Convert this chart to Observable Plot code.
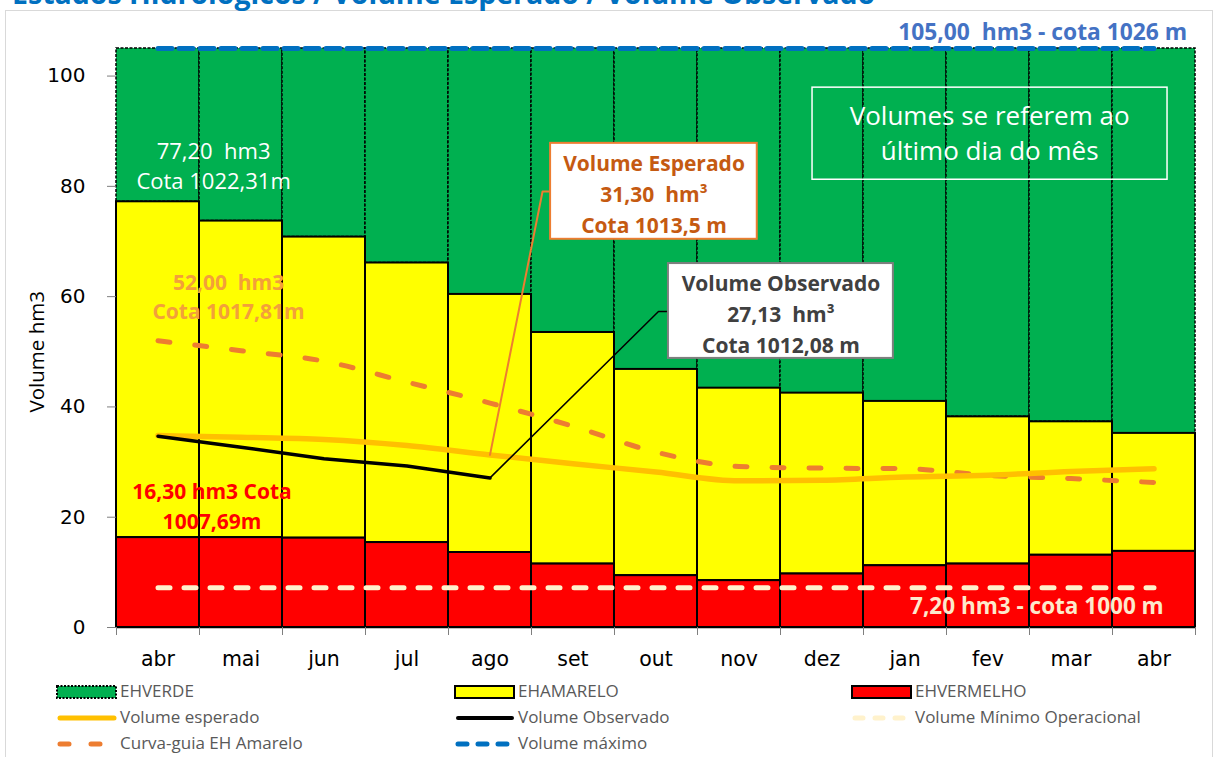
<!DOCTYPE html>
<html><head><meta charset="utf-8">
<script src="https://cdn.jsdelivr.net/npm/d3@7"></script>
<script src="https://cdn.jsdelivr.net/npm/@observablehq/plot@0.6"></script>
<style>
body{margin:0;background:#fff;}
#wrap{position:relative;width:1215px;height:757px;overflow:hidden;background:#fff;}
#frame{position:absolute;left:5px;top:10px;width:1206px;height:800px;border:1px solid #d9d9d9;}
#title{position:absolute;left:12px;top:-22px;font:bold 28.5px "Open Sans";color:#0070C0;white-space:nowrap;line-height:30px;}
#chart{position:absolute;left:0;top:0;}
.lg{position:absolute;font:17px "Open Sans";color:#595959;white-space:nowrap;line-height:20px;}
.sw{position:absolute;}
</style></head><body>
<div id="wrap"><div id="frame"></div><div id="title">Estados Hidrológicos / Volume Esperado / Volume Observado</div><div id="chart"></div><div id="legend"></div></div>
<script>
// ---- data ----
const months = ["abr","mai","jun","jul","ago","set","out","nov","dez","jan","fev","mar","abr"];
const ehVermelho = [16.3, 16.3, 16.2, 15.4, 13.6, 11.5, 9.4, 8.5, 9.7, 11.2, 11.5, 13.1, 13.8];
const ehAmarelo  = [77.2, 73.7, 70.8, 66.1, 60.4, 53.5, 46.8, 43.4, 42.5, 41.0, 38.2, 37.3, 35.2];
const ehVerde    = [105, 105, 105, 105, 105, 105, 105, 105, 105, 105, 105, 105, 105];
const volumeEsperado  = [34.8, 34.5, 34.1, 33.0, 31.3, 29.7, 28.2, 26.6, 26.7, 27.3, 27.6, 28.3, 28.8];
const volumeObservado = [34.7, 32.7, 30.6, 29.3, 27.13];
const curvaGuia       = [52.0, 50.2, 48.3, 44.5, 40.7, 36.5, 31.8, 29.2, 28.9, 28.8, 27.6, 27.0, 26.3];
const volumeMinimo    = [7.2, 7.2, 7.2, 7.2, 7.2, 7.2, 7.2, 7.2, 7.2, 7.2, 7.2, 7.2, 7.2];
const volumeMaximo    = [105, 105, 105, 105, 105, 105, 105, 105, 105, 105, 105, 105, 105];
const yTicks = [0, 20, 40, 60, 80, 100];

const rows = months.map((m, i) => ({
  i, m, red: ehVermelho[i], yel: ehAmarelo[i], grn: ehVerde[i],
  esp: volumeEsperado[i], cg: curvaGuia[i], min: volumeMinimo[i], max: volumeMaximo[i]
}));
const obsRows = volumeObservado.map((v, i) => ({i, v}));

// annotation anchors (data units)
const leaderEsp = [{x: 4.5, y: volumeEsperado[4]}, {x: 5.133, y: 79.07}, {x: 5.23, y: 79.07}];
const leaderObs = [{x: 4.5, y: volumeObservado[4]}, {x: 6.53, y: 57.3}, {x: 6.65, y: 57.3}];
const boxes = [
  {x1: 5.23, x2: 7.72, y1: 70.4, y2: 87.8, fill: "#fff", stroke: "#ED7D31", sw: 2},
  {x1: 6.65, x2: 9.36, y1: 48.8, y2: 66.0, fill: "#fff", stroke: "#7f7f7f", sw: 2},
  {x1: 8.386, x2: 12.663, y1: 81.2, y2: 97.9, fill: "none", stroke: "#fff", sw: 1.5}
];
const yLabel = {t: "Volume hm3", x: -0.952, y: 50};
const notes = [
  {t: "Volume Esperado\n31,30 \u00a0hm³\nCota 1013,5 m", x: 6.476, y: 78.9, fill: "#C55A11", w: "bold", s: 21, lh: 1.48, a: "middle"},
  {t: "Volume Observado\n27,13 \u00a0hm³\nCota 1012,08 m", x: 8.006, y: 57.2, fill: "#404040", w: "bold", s: 21, lh: 1.48, a: "middle"},
  {t: "Volumes se referem ao\núltimo dia do mês", x: 10.52, y: 90.0, fill: "#fff", w: "normal", s: 26, lh: 1.35, a: "middle"},
  {t: "77,20 \u00a0hm3\nCota 1022,31m", x: 1.17, y: 84.0, fill: "#fff", w: "normal", s: 22, lh: 1.36, a: "middle"},
  {t: "52,00 \u00a0hm3\nCota 1017,81m", x: 1.35, y: 60.3, fill: "#F3A03A", w: "bold", s: 21, lh: 1.4, a: "middle"},
  {t: "16,30 hm3 Cota\n1007,69m", x: 1.15, y: 22.4, fill: "#FF0000", w: "bold", s: 21, lh: 1.43, a: "middle"},
  {t: "7,20 hm3 - cota 1000 m", x: 12.617, y: 3.8, fill: "#FDE9CC", w: "bold", s: 22.5, lh: 1, a: "end"},
  {t: "105,00 \u00a0hm3 - cota 1026 m", x: 12.9, y: 107.9, fill: "#4472C4", w: "bold", s: 22.8, lh: 1, a: "end"}
];

const cx = d => d.i + 0.5;

const plot = Plot.plot({
  width: 1215, height: 680,
  marginLeft: 116, marginRight: 20, marginTop: 48, marginBottom: 53,
  x: {domain: [0, 13], axis: null},
  y: {domain: [0, 105], axis: null},
  style: {fontFamily: "DejaVu Sans", fontSize: "20px", background: "transparent", color: "#000", overflow: "visible"},
  marks: [
    Plot.rect(rows, {x1: "i", x2: d => d.i + 1, y1: "yel", y2: "grn", fill: "#00B050", stroke: "#000", strokeWidth: 1.5, strokeDasharray: "3,1.5"}),
    Plot.rect(rows, {x1: "i", x2: d => d.i + 1, y1: "red", y2: "yel", fill: "#FFFF00", stroke: "#000", strokeWidth: 2}),
    Plot.rect(rows, {x1: "i", x2: d => d.i + 1, y1: 0, y2: "red", fill: "#FF0000", stroke: "#000", strokeWidth: 2}),
    Plot.ruleY([0], {stroke: "#000", strokeWidth: 1.5}),
    Plot.axisY({ticks: yTicks, tickSize: 9, tickPadding: 22, fontSize: 20, stroke: "#7f7f7f"}),
    Plot.axisX({ticks: d3.range(0, 14), tickSize: 8, tickFormat: () => "", stroke: "#7f7f7f"}),
    Plot.axisX({ticks: rows.map(cx), tickSize: 0, tickPadding: 24, fontSize: 20.5, tickFormat: v => months[Math.round(v - 0.5)]}),
    Plot.text([yLabel], {x: "x", y: "y", text: "t", rotate: -90, fontSize: 20.5, fontFamily: "Open Sans", fill: "#000"}),
    Plot.line(rows, {x: cx, y: "min", stroke: "#FFF2CC", strokeWidth: 5, strokeDasharray: "12,14", strokeLinecap: "round"}),
    Plot.line(rows, {x: cx, y: "max", stroke: "#0070C0", strokeWidth: 5, strokeDasharray: "14,7"}),
    Plot.line(rows, {x: cx, y: "cg", stroke: "#ED7D31", strokeWidth: 5, strokeDasharray: "12,25", strokeLinecap: "round", curve: "monotone-x"}),
    Plot.line(rows, {x: cx, y: "esp", stroke: "#FFC000", strokeWidth: 5.5, strokeLinecap: "round", curve: "monotone-x"}),
    Plot.line(obsRows, {x: cx, y: "v", stroke: "#000", strokeWidth: 3.5, strokeLinejoin: "round"}),
    Plot.line(leaderEsp, {x: "x", y: "y", stroke: "#ED7D31", strokeWidth: 2}),
    Plot.line(leaderObs, {x: "x", y: "y", stroke: "#000", strokeWidth: 1.5}),
    ...boxes.map(b => Plot.rect([b], {x1: "x1", x2: "x2", y1: "y1", y2: "y2", fill: b.fill, stroke: b.stroke, strokeWidth: b.sw})),
    ...notes.map(n => Plot.text([n], {x: "x", y: "y", text: "t", fill: n.fill, fontWeight: n.w, fontSize: n.s, lineHeight: n.lh, textAnchor: n.a, fontFamily: "Open Sans"}))
  ]
});
document.getElementById("chart").appendChild(plot);

// ---- legend ----
const legendItems = [
  {label: "EHVERDE", kind: "rect", fill: "#00B050", dash: "2,1.5"},
  {label: "EHAMARELO", kind: "rect", fill: "#FFFF00", dash: null},
  {label: "EHVERMELHO", kind: "rect", fill: "#FF0000", dash: null},
  {label: "Volume esperado", kind: "line", stroke: "#FFC000", w: 5, dash: null},
  {label: "Volume Observado", kind: "line", stroke: "#000", w: 4, dash: null},
  {label: "Volume Mínimo Operacional", kind: "line", stroke: "#FFF2CC", w: 5, dash: "8,12"},
  {label: "Curva-guia EH Amarelo", kind: "line", stroke: "#ED7D31", w: 5, dash: "9,22"},
  {label: "Volume máximo", kind: "line", stroke: "#0070C0", w: 5, dash: "9,11"}
];
const colX = [57, 455, 852], rowY = [692, 718, 744];
const lg = document.getElementById("legend");
legendItems.forEach((it, k) => {
  const x = colX[k % 3], y = rowY[Math.floor(k / 3)];
  const ns = "http://www.w3.org/2000/svg";
  const s = document.createElementNS(ns, "svg");
  s.setAttribute("width", 62); s.setAttribute("height", 16);
  s.setAttribute("class", "sw");
  s.style.left = (x - 1) + "px"; s.style.top = (y - 8) + "px";
  if (it.kind === "rect") {
    const r = document.createElementNS(ns, "rect");
    r.setAttribute("x", 1); r.setAttribute("y", 2); r.setAttribute("width", 59); r.setAttribute("height", 12);
    r.setAttribute("fill", it.fill); r.setAttribute("stroke", "#000"); r.setAttribute("stroke-width", 2);
    if (it.dash) r.setAttribute("stroke-dasharray", it.dash);
    s.appendChild(r);
  } else {
    const l = document.createElementNS(ns, "line");
    l.setAttribute("x1", 4); l.setAttribute("x2", 58); l.setAttribute("y1", 8); l.setAttribute("y2", 8);
    l.setAttribute("stroke", it.stroke); l.setAttribute("stroke-width", it.w);
    l.setAttribute("stroke-linecap", "round");
    if (it.dash) l.setAttribute("stroke-dasharray", it.dash);
    s.appendChild(l);
  }
  lg.appendChild(s);
  const d = document.createElement("div");
  d.className = "lg"; d.textContent = it.label;
  d.style.left = (x + 63) + "px"; d.style.top = (y - 11) + "px";
  lg.appendChild(d);
});
</script>
</body></html>
